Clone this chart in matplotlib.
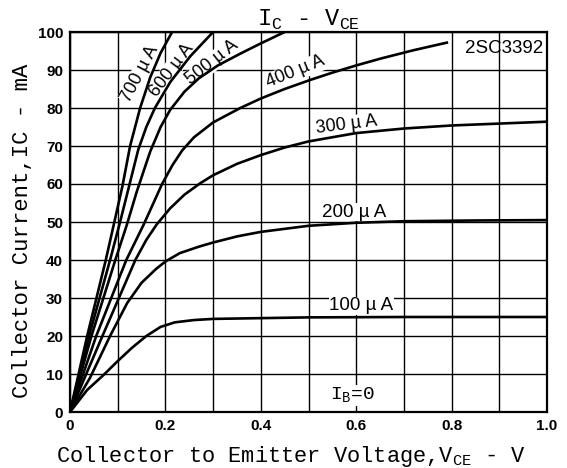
import numpy as np
import matplotlib
matplotlib.use("Agg")
import matplotlib.pyplot as plt

# 2SC3392  Ic - Vce (V, mA)
vce_100 = [0, 0.036, 0.07, 0.1, 0.13, 0.16, 0.19, 0.22, 0.26, 0.3, 0.4, 0.5, 0.7, 1.0]
ic_100 = [0, 5.8, 9.7, 13.4, 16.9, 20.0, 22.4, 23.6, 24.2, 24.5, 24.7, 24.9, 25.0, 25.0]

vce_200 = [0, 0.042, 0.084, 0.12, 0.15, 0.18, 0.2, 0.23, 0.27, 0.3, 0.35, 0.4, 0.5, 0.6, 0.7, 0.85, 1.0]
ic_200 = [0, 9.0, 20.0, 28.7, 34.0, 37.6, 39.6, 41.8, 43.5, 44.6, 46.2, 47.4, 49.0, 49.8, 50.2, 50.4, 50.5]

vce_300 = [0, 0.068, 0.137, 0.16, 0.182, 0.21, 0.24, 0.273, 0.3, 0.35, 0.4, 0.45, 0.5, 0.6, 0.7, 0.8, 0.9, 1.0]
ic_300 = [0, 20, 40, 45.3, 49.4, 53.6, 57.2, 60.2, 62.3, 65.3, 67.6, 69.6, 71.2, 73.4, 74.6, 75.4, 75.9, 76.4]

vce_400 = [0, 0.055, 0.118, 0.154, 0.175, 0.193, 0.215, 0.235, 0.26, 0.30, 0.357, 0.40,
           0.45, 0.504, 0.55, 0.6, 0.651, 0.72, 0.79]
ic_400 = [0, 20, 40, 49.2, 55, 60, 65, 68.8, 72.3, 76.2, 80, 82.5,
          85, 87.4, 89.3, 91.2, 93.0, 95.2, 97.2]

vce_500 = [0, 0.045, 0.095, 0.119, 0.14, 0.168, 0.19, 0.21, 0.24, 0.27, 0.31, 0.357, 0.40, 0.45]
ic_500 = [0, 20, 40, 49.2, 58, 68.5, 75, 79.5, 84.3, 87.8, 91.2, 94.3, 97, 100]

vce_600 = [0, 0.04, 0.084, 0.105, 0.122, 0.143, 0.16, 0.178, 0.21, 0.252, 0.30]
ic_600 = [0, 20, 40, 50, 58.5, 69, 75, 80, 86.8, 93.6, 100]

vce_700 = [0, 0.036, 0.075, 0.093, 0.11, 0.126, 0.147, 0.168, 0.19, 0.214]
ic_700 = [0, 20, 40, 50, 59.5, 70, 80, 88, 94.5, 100]

vce_0 = [0, 1.0]
ic_0 = [0, 0]

xticks = [0, 0.2, 0.4, 0.6, 0.8, 1.0]
xticklabels = ["0", "0.2", "0.4", "0.6", "0.8", "1.0"]
yticks = list(range(0, 101, 10))

plt.rcParams['mathtext.fontset'] = 'custom'
plt.rcParams['mathtext.rm'] = 'Liberation Mono'

fig = plt.figure(figsize=(5.67, 4.68), dpi=100)
ax = fig.add_axes([70/567, 1-412/468, 477/567, 380/468])

curves = [(vce_0, ic_0), (vce_100, ic_100), (vce_200, ic_200), (vce_300, ic_300),
          (vce_400, ic_400), (vce_500, ic_500), (vce_600, ic_600), (vce_700, ic_700)]
for vx, iy in curves:
    ax.plot(vx, iy, color='black', lw=1.9, solid_joinstyle='round', zorder=3)

ax.set_xlim(0, 1)
ax.set_ylim(0, 100)
ax.set_xticks(xticks)
ax.set_xticklabels(xticklabels)
ax.set_xticks(np.arange(0.1, 1.0, 0.2), minor=True)
ax.set_yticks(yticks)
ax.grid(which='both', color='black', lw=1.0)
ax.tick_params(which='both', length=0, pad=5)
for lab in ax.get_xticklabels() + ax.get_yticklabels():
    lab.set_family('Liberation Sans')
    lab.set_fontweight('bold')
    lab.set_fontsize(11)
for s in ax.spines.values():
    s.set_linewidth(1.6)

mono = 'Liberation Mono'
ax.set_title(r'I$_{\rm C}$ - V$_{\rm CE}$', fontsize=17, family=mono, pad=2)
ax.set_xlabel(r'Collector to Emitter Voltage,V$_{\rm CE}$ - V', fontsize=15.8, family=mono)
ax.set_ylabel('Collector Current,IC - mA', fontsize=16, family=mono)
ax.xaxis.set_label_coords(0.464, -0.085)
ax.yaxis.set_label_coords(-0.077, 0.476)

sans = 'Liberation Sans'
wbox = dict(facecolor='white', edgecolor='none', pad=0.5)
ax.text(0.992, 95.7, '2SC3392', fontsize=13.5, family=sans, ha='right', va='center')
ax.text(0.147, 89, '700 µ A', fontsize=13, family=sans, rotation=62, ha='center', va='center', bbox=wbox, zorder=2)
ax.text(0.213, 90, '600 µ A', fontsize=13, family=sans, rotation=53, ha='center', va='center', bbox=wbox, zorder=2)
ax.text(0.298, 92, '500 µ A', fontsize=13, family=sans, rotation=38, ha='center', va='center', bbox=wbox, zorder=2)
ax.text(0.473, 89.5, '400 µ A', fontsize=13, family=sans, rotation=22, ha='center', va='center', bbox=wbox, zorder=2)
ax.text(0.58, 75.5, '300 µ A', fontsize=13, family=sans, rotation=7, ha='center', va='center', bbox=wbox, zorder=2)
ax.text(0.595, 52.6, '200 µ A', fontsize=13.5, family=sans, ha='center', va='center', bbox=wbox, zorder=2)
ax.text(0.611, 27.9, '100 µ A', fontsize=13.5, family=sans, ha='center', va='center', bbox=wbox, zorder=2)
ax.text(0.592, 4.3, r'I$_{\rm B}$=0', fontsize=14, family=mono, ha='center', va='center', bbox=wbox, zorder=2)

fig.savefig('out.png', dpi=100)
